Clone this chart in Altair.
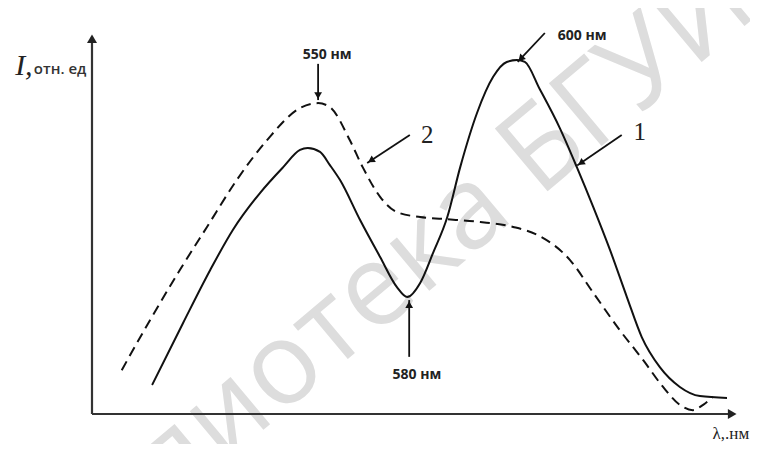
import math
import altair as alt
import pandas as pd

# ---- data (relative units: x 0..100 along λ axis, y 0..100 along I axis) ----
solid_x = [9.3, 14.1, 18.3, 21.8, 26.0, 29.6, 32.2, 33.4, 35.3, 36.8,
           38.4, 41.5, 44.6, 47.2, 48.8, 50.8, 52.8, 55.0, 57.0, 59.6,
           62.1, 64.2, 65.8, 67.0, 69.3, 72.4, 75.1, 77.6, 80.2, 82.8,
           85.1, 87.9, 91.0, 94.1, 98.3]
solid_y = [7.6, 23.9, 37.8, 48.3, 58.0, 64.8, 69.3, 69.8, 68.8, 65.4,
           61.4, 50.9, 41.2, 33.3, 30.7, 34.4, 42.3, 51.7, 64.8, 79.0,
           88.5, 92.4, 92.9, 92.4, 85.3, 75.1, 64.6, 54.3, 43.0, 30.7,
           20.2, 12.3, 7.1, 4.7, 4.2]

dash_x = [4.6, 9.0, 13.6, 17.8, 22.4, 27.1, 32.2, 35.0, 36.8, 39.9,
          41.9, 44.6, 47.2, 50.8, 54.3, 60.1, 65.2, 69.3, 74.0, 77.6,
          81.7, 85.3, 88.4, 91.0, 93.0, 94.6, 96.1]
dash_y = [11.5, 24.7, 37.8, 49.1, 61.4, 71.9, 80.3, 81.6, 80.6, 71.9,
          64.8, 57.0, 53.0, 51.7, 51.2, 50.4, 49.1, 46.7, 40.4, 31.8,
          22.0, 14.2, 7.1, 2.4, 1.0, 2.4, 4.5]

# annotation arrows (start -> tip)
arrow_x1 = [35.0, 70.1, 82.0, 49.2, 49.1]
arrow_y1 = [91.9, 100.0, 73.2, 73.2, 15.0]
arrow_x2 = [35.0, 65.9, 75.1, 42.6, 49.1]
arrow_y2 = [82.4, 92.4, 65.2, 65.9, 29.9]

# annotation labels
nm_labels = ["550 нм", "600 нм", "580 нм"]
nm_x = [36.4, 72.1, 50.3]
nm_y = [94.2, 99.2, 10.2]
nm_align = ["center", "left", "center"]

num_labels = ["1", "2"]
num_x = [84.8, 51.9]
num_y = [74.0, 73.2]

W, H = 646, 381
SX, SY = W / 100.0, H / 100.0

def head_rows(x1, y1, x2, y2, size):
    rows = []
    back = 1.155 * math.sqrt(size) / 2
    for a, b, c, d in zip(x1, y1, x2, y2):
        dx = (c - a) * SX
        dy = -(d - b) * SY
        n = math.hypot(dx, dy)
        ux, uy = dx / n, dy / n
        ang = math.degrees(math.atan2(dx, -dy)) % 360
        rows.append({"x": c - ux * back / SX, "y": d + uy * back / SY, "angle": ang})
    return pd.DataFrame(rows)

xs = alt.Scale(domain=[0, 100], nice=False, zero=False)
ys = alt.Scale(domain=[0, 100], nice=False, zero=False)
X = lambda f="x": alt.X(f"{f}:Q", scale=xs, axis=None)
Y = lambda f="y": alt.Y(f"{f}:Q", scale=ys, axis=None)

solid_df = pd.DataFrame({"x": solid_x, "y": solid_y})
dash_df = pd.DataFrame({"x": dash_x, "y": dash_y})
arrows_df = pd.DataFrame({"x": arrow_x1, "y": arrow_y1, "x2": arrow_x2, "y2": arrow_y2})
heads_df = head_rows(arrow_x1, arrow_y1, arrow_x2, arrow_y2, 60)

axes_df = pd.DataFrame({"x": [0, 0], "y": [0, 0], "x2": [0, 99], "y2": [98.5, 0]})
axis_heads_df = head_rows([0, 0], [0, 0], [0, 100], [100, 0], 100)

ink = "#111111"

watermark = alt.Chart(pd.DataFrame({"x": [45.9], "y": [35.4], "t": ["Библиотека БГУИР"]})).mark_text(
    font="Open Sans", fontSize=115, color="#dddddd", angle=320, align="center", baseline="middle"
).encode(x=X(), y=Y(), text="t:N")

axes = alt.Chart(axes_df).mark_rule(color="#333333", strokeWidth=2.2).encode(
    x=X(), y=Y(), x2="x2:Q", y2="y2:Q")
axis_heads = alt.Chart(axis_heads_df).mark_point(
    shape="triangle-up", filled=True, color="#222222", opacity=1, size=100
).encode(x=X(), y=Y(), angle=alt.Angle("angle:Q", scale=None))

curve1 = alt.Chart(solid_df).mark_line(color=ink, strokeWidth=2, interpolate="monotone").encode(
    x=X(), y=Y())
curve2 = alt.Chart(dash_df).mark_line(color=ink, strokeWidth=2, strokeDash=[10, 6],
                                      interpolate="monotone").encode(x=X(), y=Y())

arrows = alt.Chart(arrows_df).mark_rule(color=ink, strokeWidth=1.8).encode(
    x=X(), y=Y(), x2="x2:Q", y2="y2:Q")
heads = alt.Chart(heads_df).mark_point(
    shape="triangle-up", filled=True, color=ink, opacity=1, size=60
).encode(x=X(), y=Y(), angle=alt.Angle("angle:Q", scale=None))

nm_df = pd.DataFrame({"x": nm_x, "y": nm_y, "t": nm_labels, "a": nm_align})
nm_text = alt.layer(*[
    alt.Chart(nm_df[nm_df["a"] == al]).mark_text(
        font="Open Sans", fontSize=14, fontWeight="bold", color="#222222", align=al, baseline="middle"
    ).encode(x=X(), y=Y(), text="t:N")
    for al in ["center", "left"]
])

num_text = alt.Chart(pd.DataFrame({"x": num_x, "y": num_y, "t": num_labels})).mark_text(
    font="Liberation Serif", fontSize=25, color="#222222", align="center", baseline="middle"
).encode(x=X(), y=Y(), text="t:N")

i_label = alt.Chart(pd.DataFrame({"x": [-11.9], "y": [89.0], "t": ["I,"]})).mark_text(
    font="Liberation Serif", fontSize=30, fontStyle="italic", color="#222222",
    align="left", baseline="alphabetic"
).encode(x=X(), y=Y(), text="t:N")
unit_label = alt.Chart(pd.DataFrame({"x": [-9.0], "y": [89.2], "t": ["отн. ед"]})).mark_text(
    font="Open Sans", fontSize=15, fontWeight=600, color="#333333",
    align="left", baseline="alphabetic"
).encode(x=X(), y=Y(), text="t:N")
lam_label = alt.Chart(pd.DataFrame({"x": [98.9], "y": [-6.5], "t": ["λ,.нм"]})).mark_text(
    font="Liberation Serif", fontSize=17, color="#222222", align="center", baseline="alphabetic"
).encode(x=X(), y=Y(), text="t:N")

chart = alt.layer(
    watermark, axes, axis_heads, curve1, curve2, arrows, heads,
    nm_text, num_text, i_label, unit_label, lam_label
).properties(
    width=W, height=H,
    padding={"left": 84, "top": 25, "right": 12, "bottom": 30},
    autosize=alt.AutoSizeParams(type="none"),
    background="white",
).configure_view(stroke=None)

chart.save("out.html", embed_options={"renderer": "svg", "actions": False})
